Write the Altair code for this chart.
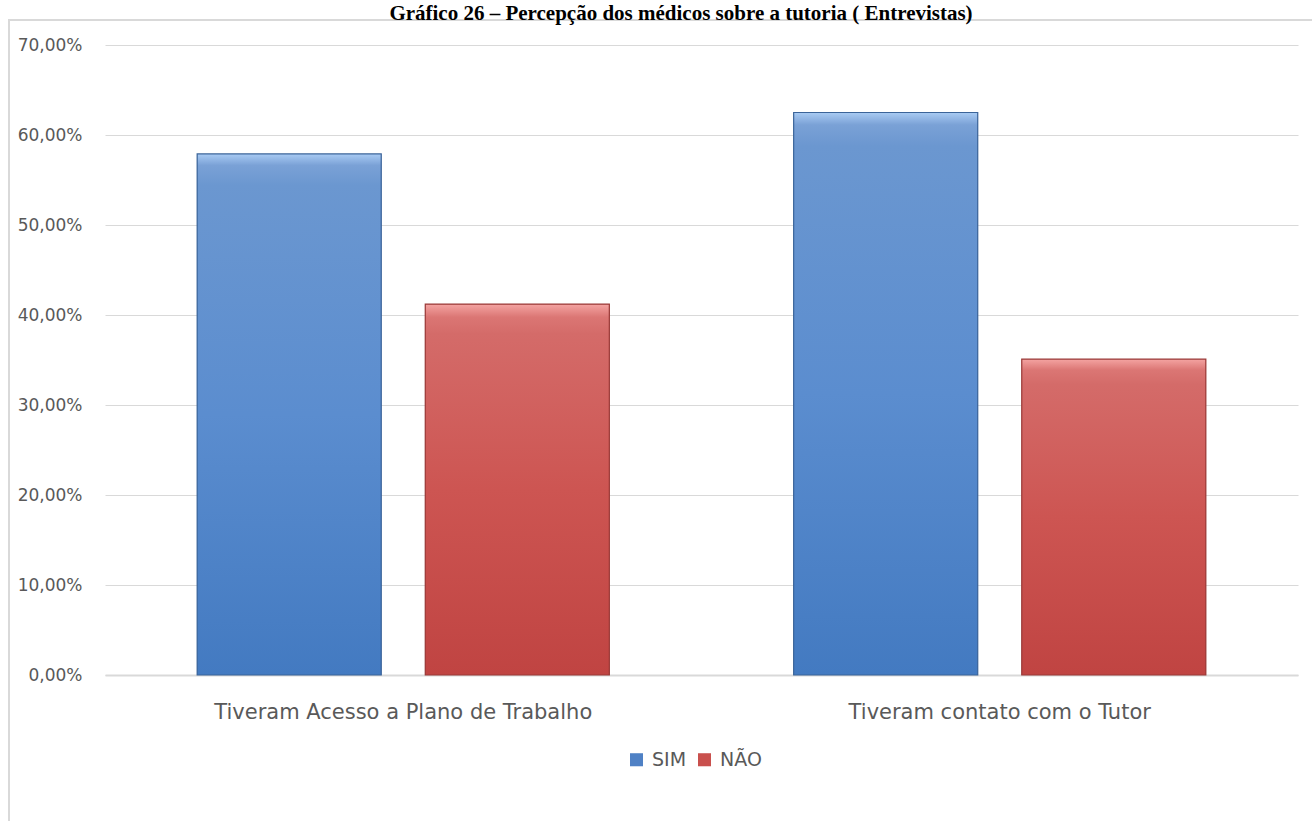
import altair as alt
import pandas as pd

# ---- data ----
categorias = ["Tiveram Acesso a Plano de Trabalho", "Tiveram contato com o Tutor"]
series = ["SIM", "NÃO"]
valores_sim = [0.579, 0.625]
valores_nao = [0.412, 0.351]
y_ticks = [0.0, 0.1, 0.2, 0.3, 0.4, 0.5, 0.6, 0.7]
titulo = "Gráfico 26 – Percepção dos médicos sobre a tutoria ( Entrevistas)"

rows = []
for c, s, n in zip(categorias, valores_sim, valores_nao):
    rows.append({"categoria": c, "serie": "SIM", "valor": s})
    rows.append({"categoria": c, "serie": "NÃO", "valor": n})
df = pd.DataFrame(rows)

FONT = "DejaVu Sans"
GRAY = "#595959"

base = alt.Chart(df).encode(
    x=alt.X(
        "categoria:N",
        sort=categorias,
        title=None,
        scale=alt.Scale(paddingInner=0.309, paddingOuter=0.1545),
        axis=alt.Axis(
            labelAngle=0, labelFont=FONT, labelFontSize=21, labelColor=GRAY,
            labelPadding=26, labelLimit=0, ticks=False, domainColor="#d9d9d9",
            domainWidth=2,
        ),
    ),
    xOffset=alt.XOffset(
        "serie:N", sort=series,
        scale=alt.Scale(domain=series, paddingInner=0.193, paddingOuter=0),
    ),
    y=alt.Y(
        "valor:Q",
        title=None,
        scale=alt.Scale(domain=[0, 0.7], nice=False),
        axis=alt.Axis(
            values=y_ticks, labelFont=FONT, labelFontSize=17, labelColor=GRAY,
            labelPadding=23, ticks=False, domain=False, gridColor="#d9d9d9",
            labelExpr="replace(format(datum.value, '.2%'), '.', ',')",
        ),
    ),
)

legend_bars = base.mark_bar().encode(
    color=alt.Color(
        "serie:N",
        scale=alt.Scale(domain=series, range=["#4f81c5", "#c9504d"]),
        legend=alt.Legend(
            title=None, orient="none", direction="horizontal",
            legendX=522, legendY=705, symbolType="square", symbolSize=170,
            labelFont=FONT, labelFontSize=19, labelColor=GRAY,
            symbolStrokeWidth=0, columnPadding=8, labelOffset=6,
        ),
    )
)

grad_sim = alt.Gradient(
    gradient="linear", x1=0, x2=0, y1=0, y2=1,
    stops=[
        alt.GradientStop(color="#a9cbf3", offset=0),
        alt.GradientStop(color="#7aa1d6", offset=0.022),
        alt.GradientStop(color="#6b97d0", offset=0.06),
        alt.GradientStop(color="#5b8dcf", offset=0.5),
        alt.GradientStop(color="#437ac1", offset=1),
    ],
)
grad_nao = alt.Gradient(
    gradient="linear", x1=0, x2=0, y1=0, y2=1,
    stops=[
        alt.GradientStop(color="#f4a4a2", offset=0),
        alt.GradientStop(color="#db7674", offset=0.035),
        alt.GradientStop(color="#d46b69", offset=0.08),
        alt.GradientStop(color="#cd5552", offset=0.5),
        alt.GradientStop(color="#c04442", offset=1),
    ],
)

bars_sim = base.transform_filter(alt.datum.serie == "SIM").mark_bar(
    fill=grad_sim, stroke="#3b6499", strokeWidth=1.2
)
bars_nao = base.transform_filter(alt.datum.serie == "NÃO").mark_bar(
    fill=grad_nao, stroke="#993a38", strokeWidth=1.2
)

one = pd.DataFrame({"t": [titulo]})
frame_left = alt.Chart(one).mark_rule(color="#d9d9d9", strokeWidth=2).encode(
    x=alt.value(-96), y=alt.value(-25), y2=alt.value(780)
)
frame_top = alt.Chart(one).mark_rule(color="#d9d9d9", strokeWidth=2).encode(
    x=alt.value(-97), x2=alt.value(1210), y=alt.value(-25)
)
title_text = alt.Chart(one).mark_text(
    font="Liberation Serif", fontSize=21, fontWeight="bold", color="#000000",
    align="center", baseline="alphabetic",
).encode(text="t:N", x=alt.value(576), y=alt.value(-25))

chart = alt.layer(
    legend_bars, bars_sim, bars_nao, frame_left, frame_top, title_text
).properties(
    width=1193, height=630,
    padding={"left": 105, "top": 45, "right": 14, "bottom": 146},
    autosize=alt.AutoSizeParams(type="none"),
    background="white",
).configure_view(stroke=None)

chart.save("out.html", embed_options={"renderer": "svg", "actions": False})
